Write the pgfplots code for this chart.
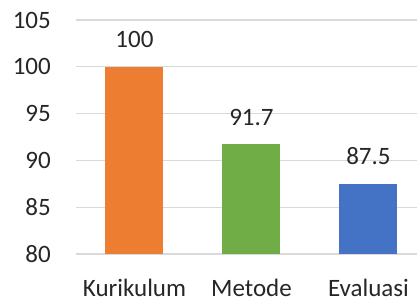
\documentclass[border=0pt]{standalone}
\usepackage{pgfplots}
\pgfplotsset{compat=1.18}
\usepackage{fontspec}
\setmainfont{Carlito}
\definecolor{cOrange}{HTML}{ED7D31}
\definecolor{cGreen}{HTML}{70AD47}
\definecolor{cBlue}{HTML}{4472C4}
\definecolor{cGrid}{HTML}{D9D9D9}
\definecolor{cText}{HTML}{262626}
\begin{document}
\begin{tikzpicture}[x=1pt,y=1pt]
\useasboundingbox (0,0) rectangle (417,299);
\begin{axis}[
  at={(76pt,45pt)}, anchor=south west,
  scale only axis, width=341pt, height=234pt,
  ymin=80, ymax=105, ytick={80,85,...,105},
  xmin=-0.5, xmax=2.415,
  xtick={0,1,2}, xticklabels={Kurikulum,Metode,Evaluasi},
  axis line style={draw=none},
  major tick length=0pt,
  ymajorgrids, grid style={line width=1.3pt, cGrid},
  /pgf/number format/assume math mode=true,
  ybar, bar width=58pt, bar shift=0pt,
  tick label style={font=\fontsize{25}{30}\selectfont, text=cText, inner sep=0pt},
  yticklabel style={anchor=east, xshift=-25pt},
  xticklabel style={anchor=base, yshift=-42.5pt},
  nodes near coords,
  every node near coord/.append style={font=\fontsize{25}{30}\selectfont, text=cText, anchor=base, inner sep=0pt, yshift=19pt},
]
\addplot[fill=cOrange, draw=none] coordinates {(0,100)};
\addplot[fill=cGreen, draw=none] coordinates {(1,91.7)};
\addplot[fill=cBlue, draw=none] coordinates {(2,87.5)};
\end{axis}
\end{tikzpicture}
\end{document}
